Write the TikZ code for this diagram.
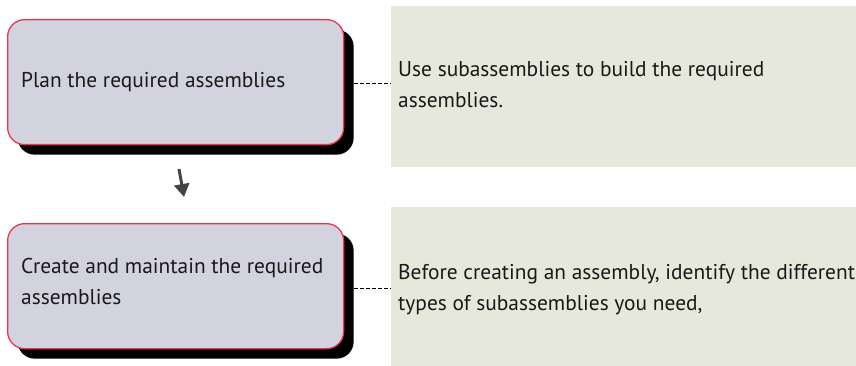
\documentclass[tikz,border=0pt]{standalone}
\usepackage{fontspec}
\setmainfont{PT Sans}
\usetikzlibrary{shadows,arrows.meta}
\definecolor{boxfill}{HTML}{D3D3DF}
\definecolor{boxline}{HTML}{E63950}
\definecolor{notefill}{HTML}{E5E8DA}
\definecolor{arrowgray}{HTML}{444444}
\begin{document}
\begin{tikzpicture}[x=1pt,y=-1pt,
  stepbox/.style={draw=boxline, line width=1.3pt, fill=boxfill, rounded corners=17pt,
    minimum width=336pt, minimum height=125pt, anchor=north west, inner sep=0pt,
    drop shadow={shadow xshift=10pt, shadow yshift=-10pt, fill=black, opacity=1}},
  notebox/.style={fill=notefill, draw=none, anchor=north west, inner sep=0pt,
    minimum width=465pt},
  label/.style={anchor=west, inner sep=0pt, align=left, font=\fontsize{21.4}{31}\selectfont, text=black!90},
  link/.style={draw=black, line width=0.9pt, dash pattern=on 4pt off 2pt},
  flow/.style={draw=arrowgray, line width=3pt, -{Triangle[length=13pt,width=15pt]}}
]
\useasboundingbox (0,0) rectangle (856,366);
% notes
\node[notebox, minimum height=161pt] (n1) at (391,6) {};
\node[notebox, minimum height=160pt] (n2) at (391,207) {};
\node[label] (n1t) at (398,85) {Use subassemblies to build the required\\assemblies.};
\node[label] (n2t) at (398,290) {Before creating an assembly, identify the different\\types of subassemblies you need,};
% steps
\node[stepbox] (b1) at (7,19) {};
\node[stepbox] (b2) at (7,223) {};
\node[label] (b1t) at (21,82) {Plan the required assemblies};
\node[label] (b2t) at (21,282) {Create and maintain the required\\assemblies};
% dashed links
\coordinate (d1) at ([xshift=10pt,yshift=-1pt]b1.east);
\coordinate (d2) at ([xshift=10pt,yshift=-2pt]b2.east);
\draw[link] (d1) -- (d1 -| n1.west);
\draw[link] (d2) -- (d2 -| n2.west);
% flow arrow
\coordinate (a1) at (179,169);
\coordinate (a2) at (184,197);
\draw[flow] (a1) -- (a2);
\end{tikzpicture}
\end{document}
